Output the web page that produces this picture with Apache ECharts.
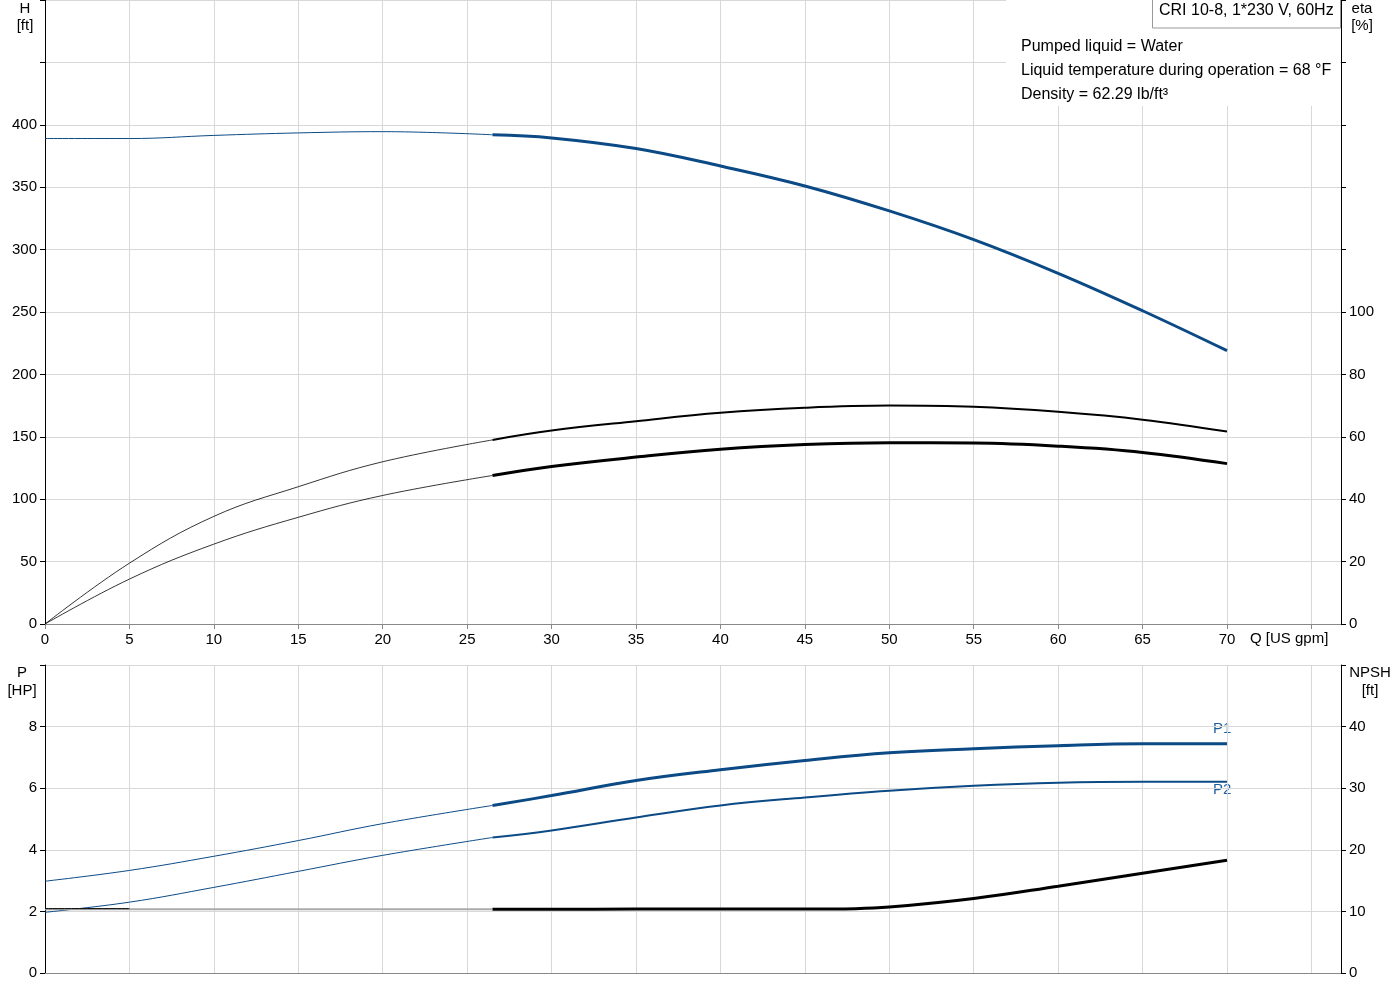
<!DOCTYPE html><html><head><meta charset="utf-8"><script src="https://cdn.jsdelivr.net/npm/echarts@6/dist/echarts.min.js"></script></head><body style="margin:0"><div id="c" style="width:1400px;height:1000px"></div><script>
const Q = [0,5,10,15,20,26.5,30,35,40,45,50,55,60,65,70];
const H = [389,389,391.5,393.5,394.5,392,389.5,381,367,351,331,308,281,251,219];
const etaP = [0,19.5,34.5,44,52,59,62,65,67.7,69.3,70,69.6,68,65.5,61.7];
const etaT = [0,14.4,25.6,34.2,41.2,47.6,50.5,53.5,56,57.5,58.1,58,57,55,51.4];
const P1 = [2.98,3.33,3.79,4.3,4.85,5.44,5.76,6.25,6.6,6.9,7.15,7.28,7.38,7.44,7.44];
const P2 = [1.97,2.3,2.78,3.3,3.82,4.4,4.63,5.05,5.44,5.7,5.92,6.08,6.18,6.21,6.21];
const NQ = [26.5,30,35,40,45,48,50,55,60,65,70];
const NPSH = [10.35,10.35,10.38,10.4,10.4,10.45,10.7,12.1,14.1,16.2,18.3];
const SPLIT = 5;
const pairs=(xs,ys)=>xs.map((x,i)=>[x,ys[i]]);
const thin=(xs,ys)=>pairs(xs,ys).slice(0,SPLIT+1);
const thick=(xs,ys)=>pairs(xs,ys).slice(SPLIT);
const blue='#0b4a85';
function line(data,x,y,color,w){return {type:'line',xAxisIndex:x,yAxisIndex:y,data,smooth:0.4,symbol:'none',lineStyle:{color,width:w},silent:true};}
const gl={lineStyle:{color:'#d8d8d8'}};
const lab={color:'#000',fontSize:15,fontFamily:'Arial, Liberation Sans'};
const c=echarts.init(document.getElementById('c'));
c.setOption({animation:false,
grid:[{left:45,right:59,top:0,height:624},{left:45,right:59,top:665,height:308}],
xAxis:[
{gridIndex:0,type:'value',min:0,max:76.75,interval:5,splitLine:gl,axisLine:{lineStyle:{color:'#888'}},axisTick:{show:true,lineStyle:{color:'#888'}},axisLabel:Object.assign({},lab,{formatter:v=>v<=70?v:'',showMaxLabel:false})},
{gridIndex:1,type:'value',min:0,max:76.75,interval:5,splitLine:gl,axisLine:{lineStyle:{color:'#888'}},axisTick:{show:false},axisLabel:{show:false}}],
yAxis:[
{gridIndex:0,type:'value',min:0,max:500,interval:50,splitLine:gl,axisLine:{show:true,lineStyle:{color:'#000'}},axisTick:{show:true,lineStyle:{color:'#000'}},axisLabel:Object.assign({},lab,{formatter:v=>v<=400?v:''})},
{gridIndex:0,type:'value',position:'right',min:0,max:200,interval:20,splitLine:{show:false},axisLine:{show:true,lineStyle:{color:'#000'}},axisTick:{show:true,lineStyle:{color:'#000'}},axisLabel:Object.assign({},lab,{formatter:v=>v<=100?v:''})},
{gridIndex:1,type:'value',min:0,max:10,interval:2,splitLine:gl,axisLine:{show:true,lineStyle:{color:'#000'}},axisTick:{show:true,lineStyle:{color:'#000'}},axisLabel:Object.assign({},lab,{formatter:v=>v<=8?v:''})},
{gridIndex:1,type:'value',position:'right',min:0,max:50,interval:10,splitLine:{show:false},axisLine:{show:true,lineStyle:{color:'#000'}},axisTick:{show:true,lineStyle:{color:'#000'}},axisLabel:Object.assign({},lab,{formatter:v=>v<=40?v:''})}],
series:[
line(thin(Q,H),0,0,blue,1),line(thick(Q,H),0,0,blue,3),
line(thin(Q,etaP),0,1,'#000',0.8),line(thick(Q,etaP),0,1,'#000',2),
line(thin(Q,etaT),0,1,'#000',0.8),line(thick(Q,etaT),0,1,'#000',3),
line(thin(Q,P1),1,2,blue,1),line(thick(Q,P1),1,2,blue,3),
line(thin(Q,P2),1,2,blue,1),line(thick(Q,P2),1,2,blue,2),
line([[0,NPSH[0]],[NQ[0],NPSH[0]]],1,3,'#aaa',2),
line([[0,NPSH[0]+0.1],[5,NPSH[0]+0.1]],1,3,'#000',1),
line(pairs(NQ,NPSH),1,3,'#000',3)
],
graphic:[
{type:'rect',shape:{x:1006,y:0,width:334,height:106},style:{fill:'#fff'},z:10},
{type:'rect',shape:{x:1152.5,y:-1,width:188,height:29},style:{fill:'#fff',stroke:'#999',lineWidth:1},z:11},
{type:'text',x:1159,y:3,style:{text:'CRI 10-8, 1*230 V, 60Hz',font:'16px Arial, Liberation Sans',fill:'#000'},z:12},
{type:'text',x:1021,y:35,style:{text:'Pumped liquid = Water\nLiquid temperature during operation = 68 °F\nDensity = 62.29 lb/ft³',font:'16px Arial, Liberation Sans',lineHeight:24,fill:'#000'},z:12},
{type:'text',x:25,y:0,style:{text:'H\n[ft]',font:'15px Arial, Liberation Sans',lineHeight:17,align:'center',fill:'#000'}},
{type:'text',x:1362,y:0,style:{text:'eta\n[%]',font:'15px Arial, Liberation Sans',lineHeight:17,align:'center',fill:'#000'}},
{type:'text',x:22,y:664,style:{text:'P\n[HP]',font:'15px Arial, Liberation Sans',lineHeight:18,align:'center',fill:'#000'}},
{type:'text',x:1370,y:664,style:{text:'NPSH\n[ft]',font:'15px Arial, Liberation Sans',lineHeight:18,align:'center',fill:'#000'}},
{type:'text',x:1250,y:631,style:{text:'Q [US gpm]',font:'15px Arial, Liberation Sans',fill:'#000'}},
{type:'text',x:1213,y:721,style:{text:'P1',font:'15px Arial, Liberation Sans',fill:'#1f5f9f'}},
{type:'text',x:1213,y:782,style:{text:'P2',font:'15px Arial, Liberation Sans',fill:'#1f5f9f'}}
]});
</script></body></html>
